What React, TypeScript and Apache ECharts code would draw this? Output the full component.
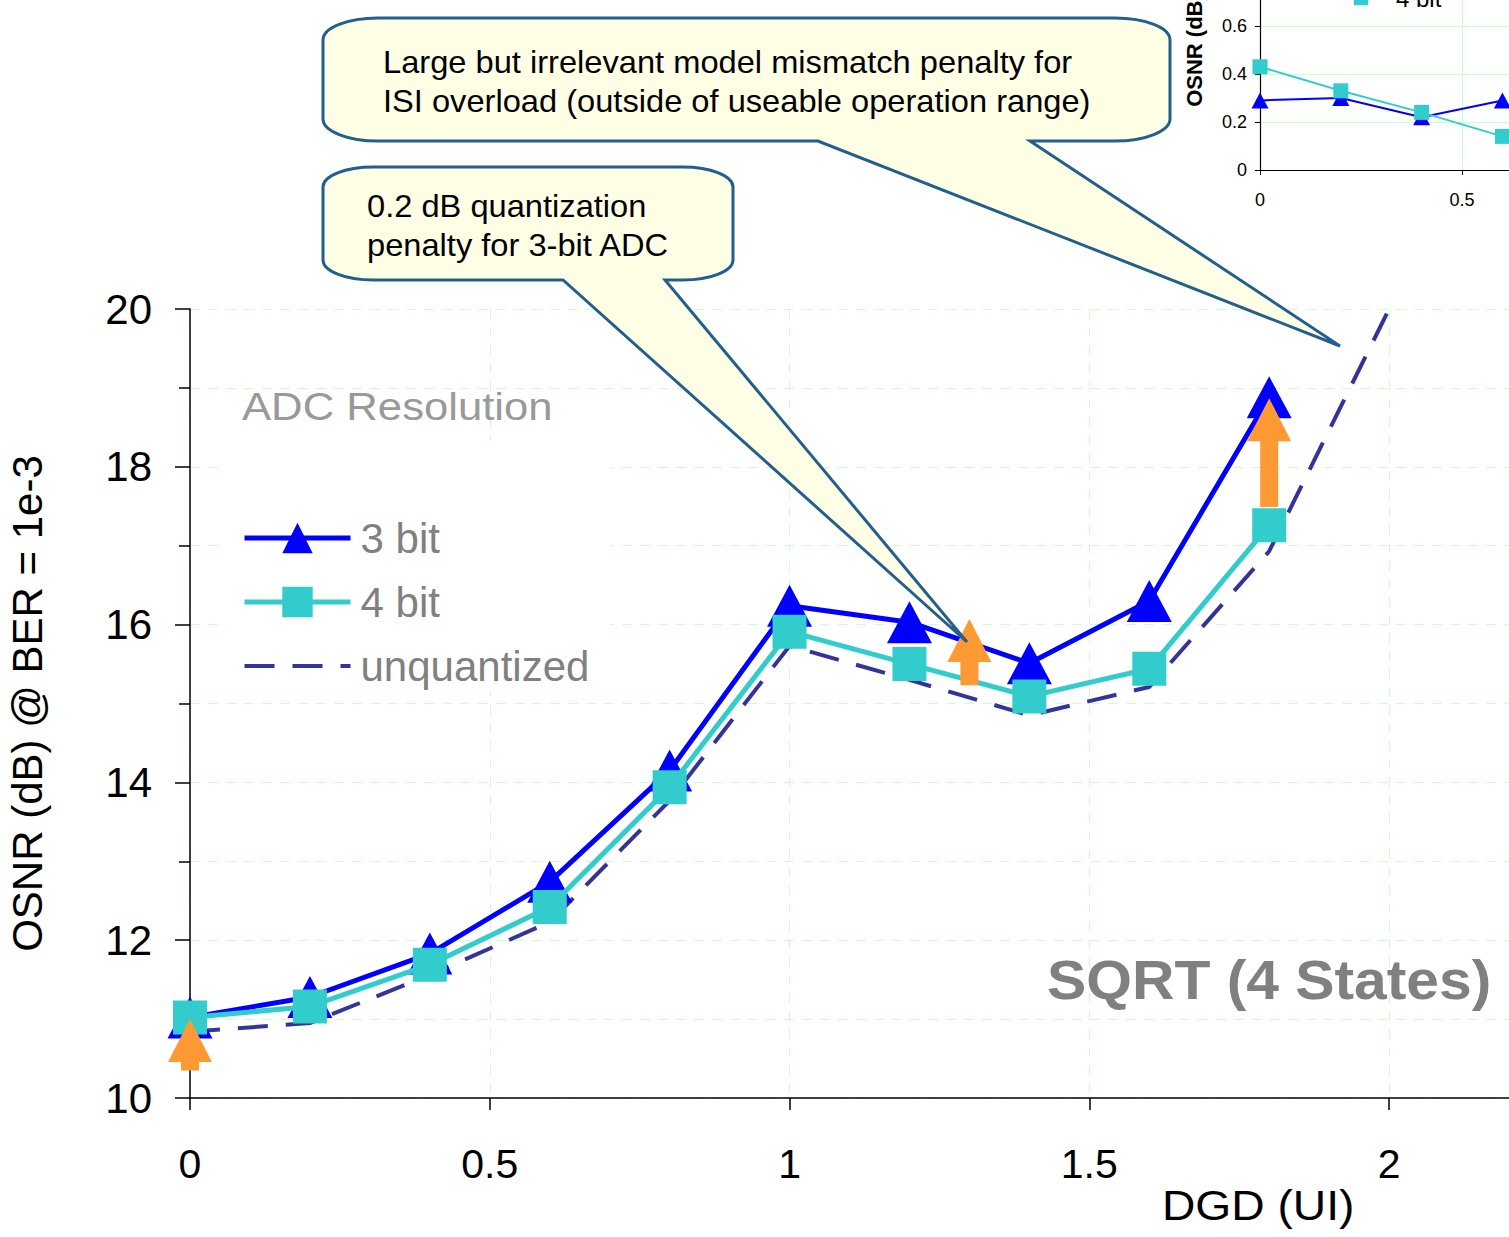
import React, { useEffect, useRef } from "react";
import * as echarts from "echarts";

// ---- data ----
const DGD = [0, 0.2, 0.4, 0.6, 0.8, 1.0, 1.2, 1.4, 1.6, 1.8];
const BIT3 = [11.02, 11.28, 11.83, 12.74, 14.15, 16.24, 16.03, 15.51, 16.3, 18.88];
const BIT4 = [11.02, 11.16, 11.69, 12.42, 13.94, 15.91, 15.5, 15.09, 15.44, 17.26];
const DGD_UNQ = [0, 0.2, 0.4, 0.6, 0.8, 1.0, 1.2, 1.4, 1.6, 1.8, 2.0];
const UNQ = [10.84, 10.95, 11.56, 12.23, 13.77, 15.73, 15.3, 14.85, 15.21, 16.93, 20.0];
const ARROW_X = [0, 1.3, 1.8];
const ARROW_FROM = [10.35, 15.23, 17.49];
const ARROW_TO = [11.0, 16.07, 18.87];
const INSET_DGD = [0, 0.2, 0.4, 0.6];
const INSET_BIT3 = [0.29, 0.3, 0.22, 0.29];
const INSET_BIT4 = [0.43, 0.33, 0.24, 0.14];
const X_TICKS = [0, 0.5, 1, 1.5, 2];
const INSET_X_TICKS = [0, 0.5, 1];

const FONT = '"Liberation Sans", Arial, sans-serif';
const GRID_GREEN = "#CCFFCC";

function calloutPath(L: number, T: number, R: number, B: number, rx: number, ry: number, t1: number, t2: number, tipX: number, tipY: number) {
  const k = 0.5523;
  return [
    `M ${L + rx} ${T}`,
    `L ${R - rx} ${T}`,
    `C ${R - rx + k * rx} ${T} ${R} ${T + ry - k * ry} ${R} ${T + ry}`,
    `L ${R} ${B - ry}`,
    `C ${R} ${B - ry + k * ry} ${R - rx + k * rx} ${B} ${R - rx} ${B}`,
    `L ${t2} ${B}`,
    `L ${tipX} ${tipY}`,
    `L ${t1} ${B}`,
    `L ${L + rx} ${B}`,
    `C ${L + rx - k * rx} ${B} ${L} ${B - ry + k * ry} ${L} ${B - ry}`,
    `L ${L} ${T + ry}`,
    `C ${L} ${T + ry - k * ry} ${L + rx - k * rx} ${T} ${L + rx} ${T}`,
    "Z",
  ].join(" ");
}

echarts.graphic.registerShape(
  "callout1",
  echarts.graphic.extendPath(calloutPath(323, 18, 1170, 141, 55, 22, 818, 1030, 1340, 346), {})
);
echarts.graphic.registerShape(
  "callout2",
  echarts.graphic.extendPath(calloutPath(323, 167, 733, 280, 50, 20, 563, 665, 967, 642), {})
);

function txt(text: string, x: number, y: number, font: string, fill: string, sx = 1) {
  return {
    type: "text",
    x,
    y,
    scaleX: sx,
    z: 30,
    silent: true,
    style: {
      text,
      font,
      fill,
      align: "left",
      verticalAlign: "middle",
      textAlign: "left",
      textVerticalAlign: "middle",
    },
  };
}

export default function App() {
  const ref = useRef<HTMLDivElement>(null);

  useEffect(() => {
    if (!ref.current) return;
    const chart = echarts.init(ref.current, undefined, { renderer: "svg" });

    const dashedGrid = { show: true, lineStyle: { color: GRID_GREEN, width: 1, type: [10, 8] } };

    const option: any = {
      animation: false,
      backgroundColor: "#ffffff",
      textStyle: { fontFamily: FONT },
      grid: [
        { left: 190, right: 0, top: 309, bottom: 139, containLabel: false, outerBoundsMode: "none" },
        { left: 1260, top: -70, width: 404, height: 240, containLabel: false, outerBoundsMode: "none" },
      ],
      legend: [
        {
          data: [
            { name: "3 bit", lineStyle: { width: 5 } },
            { name: "4 bit", lineStyle: { width: 5 } },
            { name: "unquantized", lineStyle: { width: 4, type: [30, 18] }, itemStyle: { opacity: 0 } },
          ],
          orient: "vertical",
          left: 242,
          top: 517,
          itemWidth: 106,
          itemHeight: 38,
          itemGap: 22,
          padding: 0,
          selectedMode: false,
          lineStyle: { width: 5 },
          textStyle: { fontSize: 42, color: "#808080", fontFamily: FONT, lineHeight: 38, padding: [0, 0, 0, 5] },
        },
        {
          data: ["4 bit"],
          orient: "vertical",
          left: 1330,
          top: -14,
          itemWidth: 60,
          itemHeight: 18,
          padding: 0,
          selectedMode: false,
          lineStyle: { width: 2 },
          textStyle: { fontSize: 24, color: "#000000", fontFamily: FONT, lineHeight: 18 },
        },
      ],
      xAxis: [
        {
          type: "value",
          gridIndex: 0,
          min: 0,
          max: 2.2,
          interval: 0.5,
          axisLine: { show: true, onZero: false, lineStyle: { color: "#000", width: 1.5 } },
          axisTick: { show: true, length: 12, customValues: X_TICKS, lineStyle: { color: "#000", width: 1.5 } },
          axisLabel: {
            show: true,
            customValues: X_TICKS,
            fontSize: 41,
            color: "#000",
            margin: 45,
            fontFamily: FONT,
            formatter: (v: number) => (v > 2.05 ? "" : String(v)),
          },
          splitLine: dashedGrid,
        },
        {
          type: "value",
          gridIndex: 1,
          min: 0,
          max: 1,
          interval: 0.5,
          axisLine: { show: true, onZero: false, lineStyle: { color: "#000", width: 1.2 } },
          axisTick: { show: true, length: 5, customValues: INSET_X_TICKS, lineStyle: { color: "#000" } },
          axisLabel: { show: true, customValues: INSET_X_TICKS, fontSize: 18, color: "#000", margin: 21, fontFamily: FONT },
          splitLine: { show: true, lineStyle: { color: GRID_GREEN, width: 1, type: "solid" } },
        },
      ],
      yAxis: [
        {
          type: "value",
          gridIndex: 0,
          min: 10,
          max: 20,
          interval: 2,
          name: "OSNR (dB) @ BER = 1e-3",
          nameLocation: "middle",
          nameGap: 142,
          nameTextStyle: { fontSize: 42, color: "#000", fontFamily: FONT },
          axisLine: { show: true, onZero: false, lineStyle: { color: "#000", width: 1.5 } },
          axisTick: { show: true, length: 15, lineStyle: { color: "#000", width: 1.5 } },
          minorTick: { show: true, splitNumber: 2, length: 11, lineStyle: { color: "#000", width: 1.5 } },
          axisLabel: { show: true, fontSize: 42, color: "#000", margin: 38, fontFamily: FONT },
          splitLine: dashedGrid,
          minorSplitLine: dashedGrid,
        },
        {
          type: "value",
          gridIndex: 1,
          min: 0,
          max: 1,
          interval: 0.2,
          name: "OSNR (dB)",
          nameLocation: "middle",
          nameGap: 55,
          nameTextStyle: { fontSize: 22, fontWeight: "bold", color: "#000", fontFamily: FONT },
          axisLine: { show: true, onZero: false, lineStyle: { color: "#000", width: 1.2 } },
          axisTick: { show: true, length: 5, lineStyle: { color: "#000" } },
          axisLabel: { show: true, fontSize: 18, color: "#000", margin: 13, fontFamily: FONT },
          splitLine: { show: true, lineStyle: { color: GRID_GREEN, width: 1, type: "solid" } },
        },
      ],
      series: [
        {
          name: "unquantized",
          type: "line",
          xAxisIndex: 0,
          yAxisIndex: 0,
          data: DGD_UNQ.map((x, i) => [x, UNQ[i]]),
          symbol: "none",
          lineStyle: { color: "#333399", width: 4, type: [30, 18] },
          itemStyle: { color: "#333399" },
          z: 2,
          silent: true,
        },
        {
          name: "3 bit",
          type: "line",
          xAxisIndex: 0,
          yAxisIndex: 0,
          data: DGD.map((x, i) => [x, BIT3[i]]),
          symbol: "triangle",
          symbolSize: [45, 42],
          lineStyle: { color: "#0000FF", width: 5 },
          itemStyle: { color: "#0000FF" },
          z: 3,
          silent: true,
        },
        {
          name: "4 bit",
          type: "line",
          xAxisIndex: 0,
          yAxisIndex: 0,
          data: DGD.map((x, i) => [x, BIT4[i]]),
          symbol: "rect",
          symbolSize: 34,
          lineStyle: { color: "#33CCCC", width: 5 },
          itemStyle: { color: "#33CCCC" },
          z: 4,
          silent: true,
        },
        {
          name: "penalty",
          type: "custom",
          xAxisIndex: 0,
          yAxisIndex: 0,
          clip: false,
          z: 6,
          silent: true,
          data: ARROW_X.map((x, i) => [x, ARROW_FROM[i], ARROW_TO[i]]),
          encode: { x: 0, y: [1, 2] },
          renderItem: (params: any, api: any) => {
            const b = api.coord([api.value(0), api.value(1)]);
            const t = api.coord([api.value(0), api.value(2)]);
            const cx = b[0];
            const hh = 43;
            const hw = 22;
            const sw = 9;
            return {
              type: "polygon",
              shape: {
                points: [
                  [cx - sw, b[1]],
                  [cx - sw, t[1] + hh],
                  [cx - hw, t[1] + hh],
                  [cx, t[1]],
                  [cx + hw, t[1] + hh],
                  [cx + sw, t[1] + hh],
                  [cx + sw, b[1]],
                ],
              },
              style: { fill: "#FF9933" },
            };
          },
        },
        {
          name: "3 bit",
          type: "line",
          xAxisIndex: 1,
          yAxisIndex: 1,
          data: INSET_DGD.map((x, i) => [x, INSET_BIT3[i]]),
          symbol: "triangle",
          symbolSize: [17, 16],
          lineStyle: { color: "#0000FF", width: 2 },
          itemStyle: { color: "#0000FF" },
          z: 3,
          silent: true,
        },
        {
          name: "4 bit",
          type: "line",
          xAxisIndex: 1,
          yAxisIndex: 1,
          data: INSET_DGD.map((x, i) => [x, INSET_BIT4[i]]),
          symbol: "rect",
          symbolSize: 15,
          lineStyle: { color: "#33CCCC", width: 2 },
          itemStyle: { color: "#33CCCC" },
          z: 4,
          silent: true,
        },
      ],
      graphic: [
        { type: "rect", z: 1, silent: true, shape: { x: 223, y: 440, width: 388, height: 252 }, style: { fill: "#ffffff" } },
        { type: "callout1", x: 0, y: 0, z: 20, silent: true, style: { fill: "#FFFFE6", stroke: "#235F8C", lineWidth: 3 } },
        { type: "callout2", x: 0, y: 0, z: 20, silent: true, style: { fill: "#FFFFE6", stroke: "#235F8C", lineWidth: 3 } },
        txt("Large but irrelevant model mismatch penalty for", 383, 62, `32px ${FONT}`, "#000", 1.02),
        txt("ISI overload (outside of useable operation range)", 383, 101, `32px ${FONT}`, "#000", 1.02),
        txt("0.2 dB quantization", 367, 206, `32px ${FONT}`, "#000", 1.02),
        txt("penalty for 3-bit ADC", 367, 245, `32px ${FONT}`, "#000", 1.02),
        txt("ADC Resolution", 242, 407, `39px ${FONT}`, "#999999", 1.12),
        txt("SQRT (4 States)", 1047, 979, `bold 56px ${FONT}`, "#808080", 1.05),
        txt("DGD (UI)", 1162, 1205, `42px ${FONT}`, "#000", 1.1),
      ],
    };

    chart.setOption(option);
    return () => chart.dispose();
  }, []);

  return (
    <div
      ref={ref}
      style={{ position: "absolute", left: 0, top: 0, width: 1509, height: 1237, background: "#fff" }}
    />
  );
}
